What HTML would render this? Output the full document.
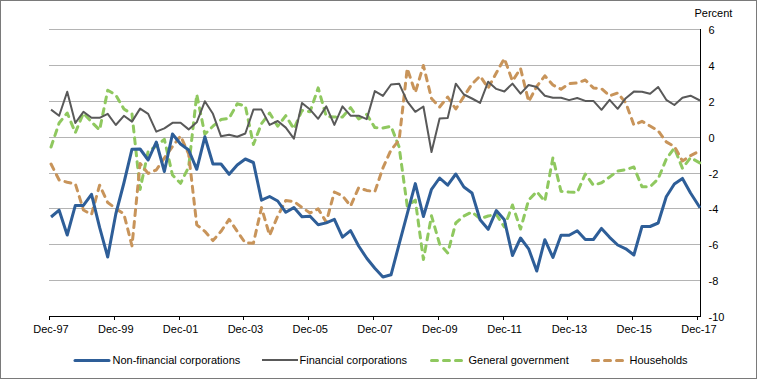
<!DOCTYPE html>
<html><head><meta charset="utf-8"><style>
html,body{margin:0;padding:0;background:#fff;width:757px;height:379px;overflow:hidden}
svg{display:block}
</style></head><body>
<svg width="757" height="379" viewBox="0 0 757 379">
<rect x="0" y="0" width="757" height="379" fill="#fff"/>
<rect x="0.5" y="0.5" width="756" height="378" fill="none" stroke="#7a7a7a" stroke-width="1"/>
<rect x="49" y="29" width="651" height="1" fill="#B4B4B4"/>
<rect x="49" y="65" width="651" height="1" fill="#B4B4B4"/>
<rect x="49" y="101" width="651" height="1" fill="#B4B4B4"/>
<rect x="49" y="137" width="651" height="1" fill="#B4B4B4"/>
<rect x="49" y="173" width="651" height="1" fill="#B4B4B4"/>
<rect x="49" y="208" width="651" height="1" fill="#B4B4B4"/>
<rect x="49" y="244" width="651" height="1" fill="#B4B4B4"/>
<rect x="49" y="280" width="651" height="1" fill="#B4B4B4"/>
<rect x="700" y="29" width="1" height="288" fill="#000"/>
<rect x="49" y="316" width="652" height="1" fill="#000"/>
<rect x="49" y="317" width="1" height="3" fill="#000"/>
<rect x="114" y="317" width="1" height="3" fill="#000"/>
<rect x="179" y="317" width="1" height="3" fill="#000"/>
<rect x="243" y="317" width="1" height="3" fill="#000"/>
<rect x="308" y="317" width="1" height="3" fill="#000"/>
<rect x="373" y="317" width="1" height="3" fill="#000"/>
<rect x="438" y="317" width="1" height="3" fill="#000"/>
<rect x="503" y="317" width="1" height="3" fill="#000"/>
<rect x="567" y="317" width="1" height="3" fill="#000"/>
<rect x="632" y="317" width="1" height="3" fill="#000"/>
<rect x="697" y="317" width="1" height="3" fill="#000"/>
<polyline points="51.04,147.00 59.13,123.00 67.23,113.00 75.33,132.70 83.42,113.00 91.52,122.00 99.61,130.00 107.71,90.20 115.80,95.00 123.90,109.00 131.99,114.00 140.09,189.40 148.18,151.20 156.28,146.20 164.37,139.30 172.47,175.00 180.56,183.30 188.66,167.00 196.75,94.50 204.84,134.20 212.94,126.20 221.03,119.60 229.13,118.30 237.22,103.80 245.32,106.00 253.42,144.50 261.51,123.60 269.61,113.00 277.70,126.20 285.80,115.70 293.89,128.90 301.99,110.40 310.08,111.70 318.18,87.90 326.27,116.50 334.37,117.00 342.46,117.00 350.56,107.70 358.65,119.00 366.75,114.30 374.84,127.60 382.94,128.00 391.03,126.30 399.13,147.00 407.22,206.00 415.32,200.20 423.41,259.60 431.51,215.80 439.60,244.00 447.70,253.00 455.79,223.00 463.89,216.00 471.98,212.00 480.08,218.80 488.17,216.00 496.27,214.50 504.36,227.00 512.46,205.00 520.55,229.00 528.64,200.00 536.74,191.70 544.84,201.30 552.93,157.70 561.02,191.30 569.12,192.10 577.22,192.50 585.31,174.00 593.40,185.20 601.50,182.80 609.60,177.00 617.69,171.00 625.78,169.60 633.88,167.00 641.98,186.80 650.07,186.80 658.16,178.90 666.26,159.10 674.36,148.00 682.45,168.30 690.54,157.70 700.00,163.00" fill="none" stroke="#8FC85F" stroke-width="3" stroke-dasharray="6 6" stroke-linecap="round" stroke-linejoin="round"/>
<polyline points="51.04,164.00 59.13,180.00 67.23,182.30 75.33,183.80 83.42,210.00 91.52,214.50 99.61,185.20 107.71,202.50 115.80,208.50 123.90,214.00 131.99,245.90 140.09,163.50 148.18,173.40 156.28,170.00 164.37,158.00 172.47,146.50 180.56,136.00 188.66,154.00 196.75,224.80 204.84,231.30 212.94,240.60 221.03,231.30 229.13,219.40 237.22,231.30 245.32,243.00 253.42,243.20 261.51,207.60 269.61,235.30 277.70,216.00 285.80,200.50 293.89,201.50 301.99,207.50 310.08,213.00 318.18,208.90 326.27,222.10 334.37,192.00 342.46,195.70 350.56,206.00 358.65,187.70 366.75,190.40 374.84,191.70 382.94,167.90 391.03,150.00 399.13,140.00 407.22,68.50 415.32,92.50 423.41,65.50 431.51,98.50 439.60,107.00 447.70,97.00 455.79,109.00 463.89,96.50 471.98,84.00 480.08,76.00 488.17,88.00 496.27,73.00 504.36,58.50 512.46,81.00 520.55,68.50 528.64,101.50 536.74,86.50 544.84,75.80 552.93,85.00 561.02,89.20 569.12,83.70 577.22,83.00 585.31,80.00 593.40,87.90 601.50,88.70 609.60,95.80 617.69,93.00 625.78,102.80 633.88,125.00 641.98,121.30 650.07,126.00 658.16,130.80 666.26,141.90 674.36,146.50 682.45,161.00 690.54,155.70 700.00,150.70" fill="none" stroke="#C8945A" stroke-width="3" stroke-dasharray="6 6" stroke-linecap="round" stroke-linejoin="round"/>
<polyline points="51.04,109.60 59.13,115.80 67.23,91.80 75.33,123.00 83.42,111.80 91.52,117.80 99.61,117.80 107.71,113.80 115.80,125.00 123.90,115.80 131.99,121.60 140.09,108.60 148.18,113.80 156.28,131.70 164.37,128.30 172.47,122.80 180.56,122.80 188.66,129.40 196.75,122.30 204.84,101.30 212.94,113.80 221.03,136.30 229.13,134.70 237.22,136.80 245.32,133.50 253.42,109.60 261.51,109.60 269.61,124.90 277.70,121.00 285.80,127.60 293.89,138.70 301.99,103.00 310.08,109.60 318.18,118.80 326.27,106.40 334.37,124.90 342.46,106.40 350.56,115.70 358.65,115.70 366.75,119.10 374.84,91.10 382.94,95.90 391.03,84.50 399.13,83.70 407.22,101.30 415.32,111.80 423.41,106.50 431.51,152.00 439.60,118.60 447.70,118.00 455.79,83.70 463.89,94.50 471.98,98.50 480.08,102.90 488.17,81.70 496.27,88.90 504.36,91.50 512.46,83.60 520.55,93.60 528.64,85.00 536.74,87.00 544.84,95.80 552.93,97.70 561.02,97.70 569.12,100.10 577.22,98.00 585.31,100.90 593.40,100.90 601.50,109.80 609.60,99.80 617.69,108.80 625.78,98.20 633.88,91.60 641.98,91.70 650.07,93.80 658.16,87.00 666.26,99.80 674.36,105.00 682.45,97.80 690.54,95.70 700.00,100.50" fill="none" stroke="#595959" stroke-width="2" stroke-linejoin="round"/>
<polyline points="51.04,217.00 59.13,210.20 67.23,235.00 75.33,205.40 83.42,205.40 91.52,194.30 99.61,227.40 107.71,257.00 115.80,214.00 123.90,183.00 131.99,149.20 140.09,149.00 148.18,160.00 156.28,142.00 164.37,171.50 172.47,134.00 180.56,144.00 188.66,150.00 196.75,169.30 204.84,136.80 212.94,164.00 221.03,164.00 229.13,174.30 237.22,165.00 245.32,159.00 253.42,162.50 261.51,200.20 269.61,196.50 277.70,201.00 285.80,212.30 293.89,207.60 301.99,216.80 310.08,216.30 318.18,224.70 326.27,222.90 334.37,219.40 342.46,237.10 350.56,230.60 358.65,246.00 366.75,258.30 374.84,268.30 382.94,277.00 391.03,274.80 399.13,244.20 407.22,213.90 415.32,183.60 423.41,216.50 431.51,189.30 439.60,178.00 447.70,185.20 455.79,174.00 463.89,187.00 471.98,193.00 480.08,219.80 488.17,229.30 496.27,210.60 504.36,219.80 512.46,255.50 520.55,238.00 528.64,248.80 536.74,271.00 544.84,239.70 552.93,257.50 561.02,235.30 569.12,235.30 577.22,230.70 585.31,239.50 593.40,239.50 601.50,228.40 609.60,237.30 617.69,245.00 625.78,248.80 633.88,255.00 641.98,226.50 650.07,226.50 658.16,223.00 666.26,196.80 674.36,184.00 682.45,178.40 690.54,193.00 700.00,207.70" fill="none" stroke="#2E5E98" stroke-width="3" stroke-linejoin="round"/>
<text x="708.5" y="33.5" font-family='"Liberation Sans", sans-serif' font-size="11" fill="#000" text-anchor="start">6</text>
<text x="708.5" y="69.5" font-family='"Liberation Sans", sans-serif' font-size="11" fill="#000" text-anchor="start">4</text>
<text x="708.5" y="105.5" font-family='"Liberation Sans", sans-serif' font-size="11" fill="#000" text-anchor="start">2</text>
<text x="708.5" y="141.5" font-family='"Liberation Sans", sans-serif' font-size="11" fill="#000" text-anchor="start">0</text>
<text x="708.5" y="177.5" font-family='"Liberation Sans", sans-serif' font-size="11" fill="#000" text-anchor="start">-2</text>
<text x="708.5" y="212.5" font-family='"Liberation Sans", sans-serif' font-size="11" fill="#000" text-anchor="start">-4</text>
<text x="708.5" y="248.5" font-family='"Liberation Sans", sans-serif' font-size="11" fill="#000" text-anchor="start">-6</text>
<text x="708.5" y="284.5" font-family='"Liberation Sans", sans-serif' font-size="11" fill="#000" text-anchor="start">-8</text>
<text x="708.5" y="320.5" font-family='"Liberation Sans", sans-serif' font-size="11" fill="#000" text-anchor="start">-10</text>
<text x="694.5" y="17" font-family='"Liberation Sans", sans-serif' font-size="11" fill="#000" text-anchor="start">Percent</text>
<text x="51.0" y="333" font-family='"Liberation Sans", sans-serif' font-size="11" fill="#000" text-anchor="middle">Dec-97</text>
<text x="115.8" y="333" font-family='"Liberation Sans", sans-serif' font-size="11" fill="#000" text-anchor="middle">Dec-99</text>
<text x="180.6" y="333" font-family='"Liberation Sans", sans-serif' font-size="11" fill="#000" text-anchor="middle">Dec-01</text>
<text x="245.4" y="333" font-family='"Liberation Sans", sans-serif' font-size="11" fill="#000" text-anchor="middle">Dec-03</text>
<text x="310.2" y="333" font-family='"Liberation Sans", sans-serif' font-size="11" fill="#000" text-anchor="middle">Dec-05</text>
<text x="375.0" y="333" font-family='"Liberation Sans", sans-serif' font-size="11" fill="#000" text-anchor="middle">Dec-07</text>
<text x="439.8" y="333" font-family='"Liberation Sans", sans-serif' font-size="11" fill="#000" text-anchor="middle">Dec-09</text>
<text x="504.6" y="333" font-family='"Liberation Sans", sans-serif' font-size="11" fill="#000" text-anchor="middle">Dec-11</text>
<text x="569.4" y="333" font-family='"Liberation Sans", sans-serif' font-size="11" fill="#000" text-anchor="middle">Dec-13</text>
<text x="634.2" y="333" font-family='"Liberation Sans", sans-serif' font-size="11" fill="#000" text-anchor="middle">Dec-15</text>
<text x="699.0" y="333" font-family='"Liberation Sans", sans-serif' font-size="11" fill="#000" text-anchor="middle">Dec-17</text>
<line x1="75" y1="360.5" x2="109" y2="360.5" stroke="#2E5E98" stroke-width="3" stroke-linecap="round"/>
<text x="112.5" y="364" font-family='"Liberation Sans", sans-serif' font-size="11" fill="#000" text-anchor="start">Non-financial corporations</text>
<line x1="262" y1="360" x2="298" y2="360" stroke="#595959" stroke-width="2"/>
<text x="299.5" y="364" font-family='"Liberation Sans", sans-serif' font-size="11" fill="#000" text-anchor="start">Financial corporations</text>
<line x1="431.5" y1="360.5" x2="463" y2="360.5" stroke="#8FC85F" stroke-width="3" stroke-dasharray="6 6" stroke-linecap="round"/>
<text x="468.5" y="364" font-family='"Liberation Sans", sans-serif' font-size="11" fill="#000" text-anchor="start">General government</text>
<line x1="592.5" y1="360.5" x2="624" y2="360.5" stroke="#C8945A" stroke-width="3" stroke-dasharray="6 6" stroke-linecap="round"/>
<text x="629.5" y="364" font-family='"Liberation Sans", sans-serif' font-size="11" fill="#000" text-anchor="start">Households</text>
</svg>
</body></html>
